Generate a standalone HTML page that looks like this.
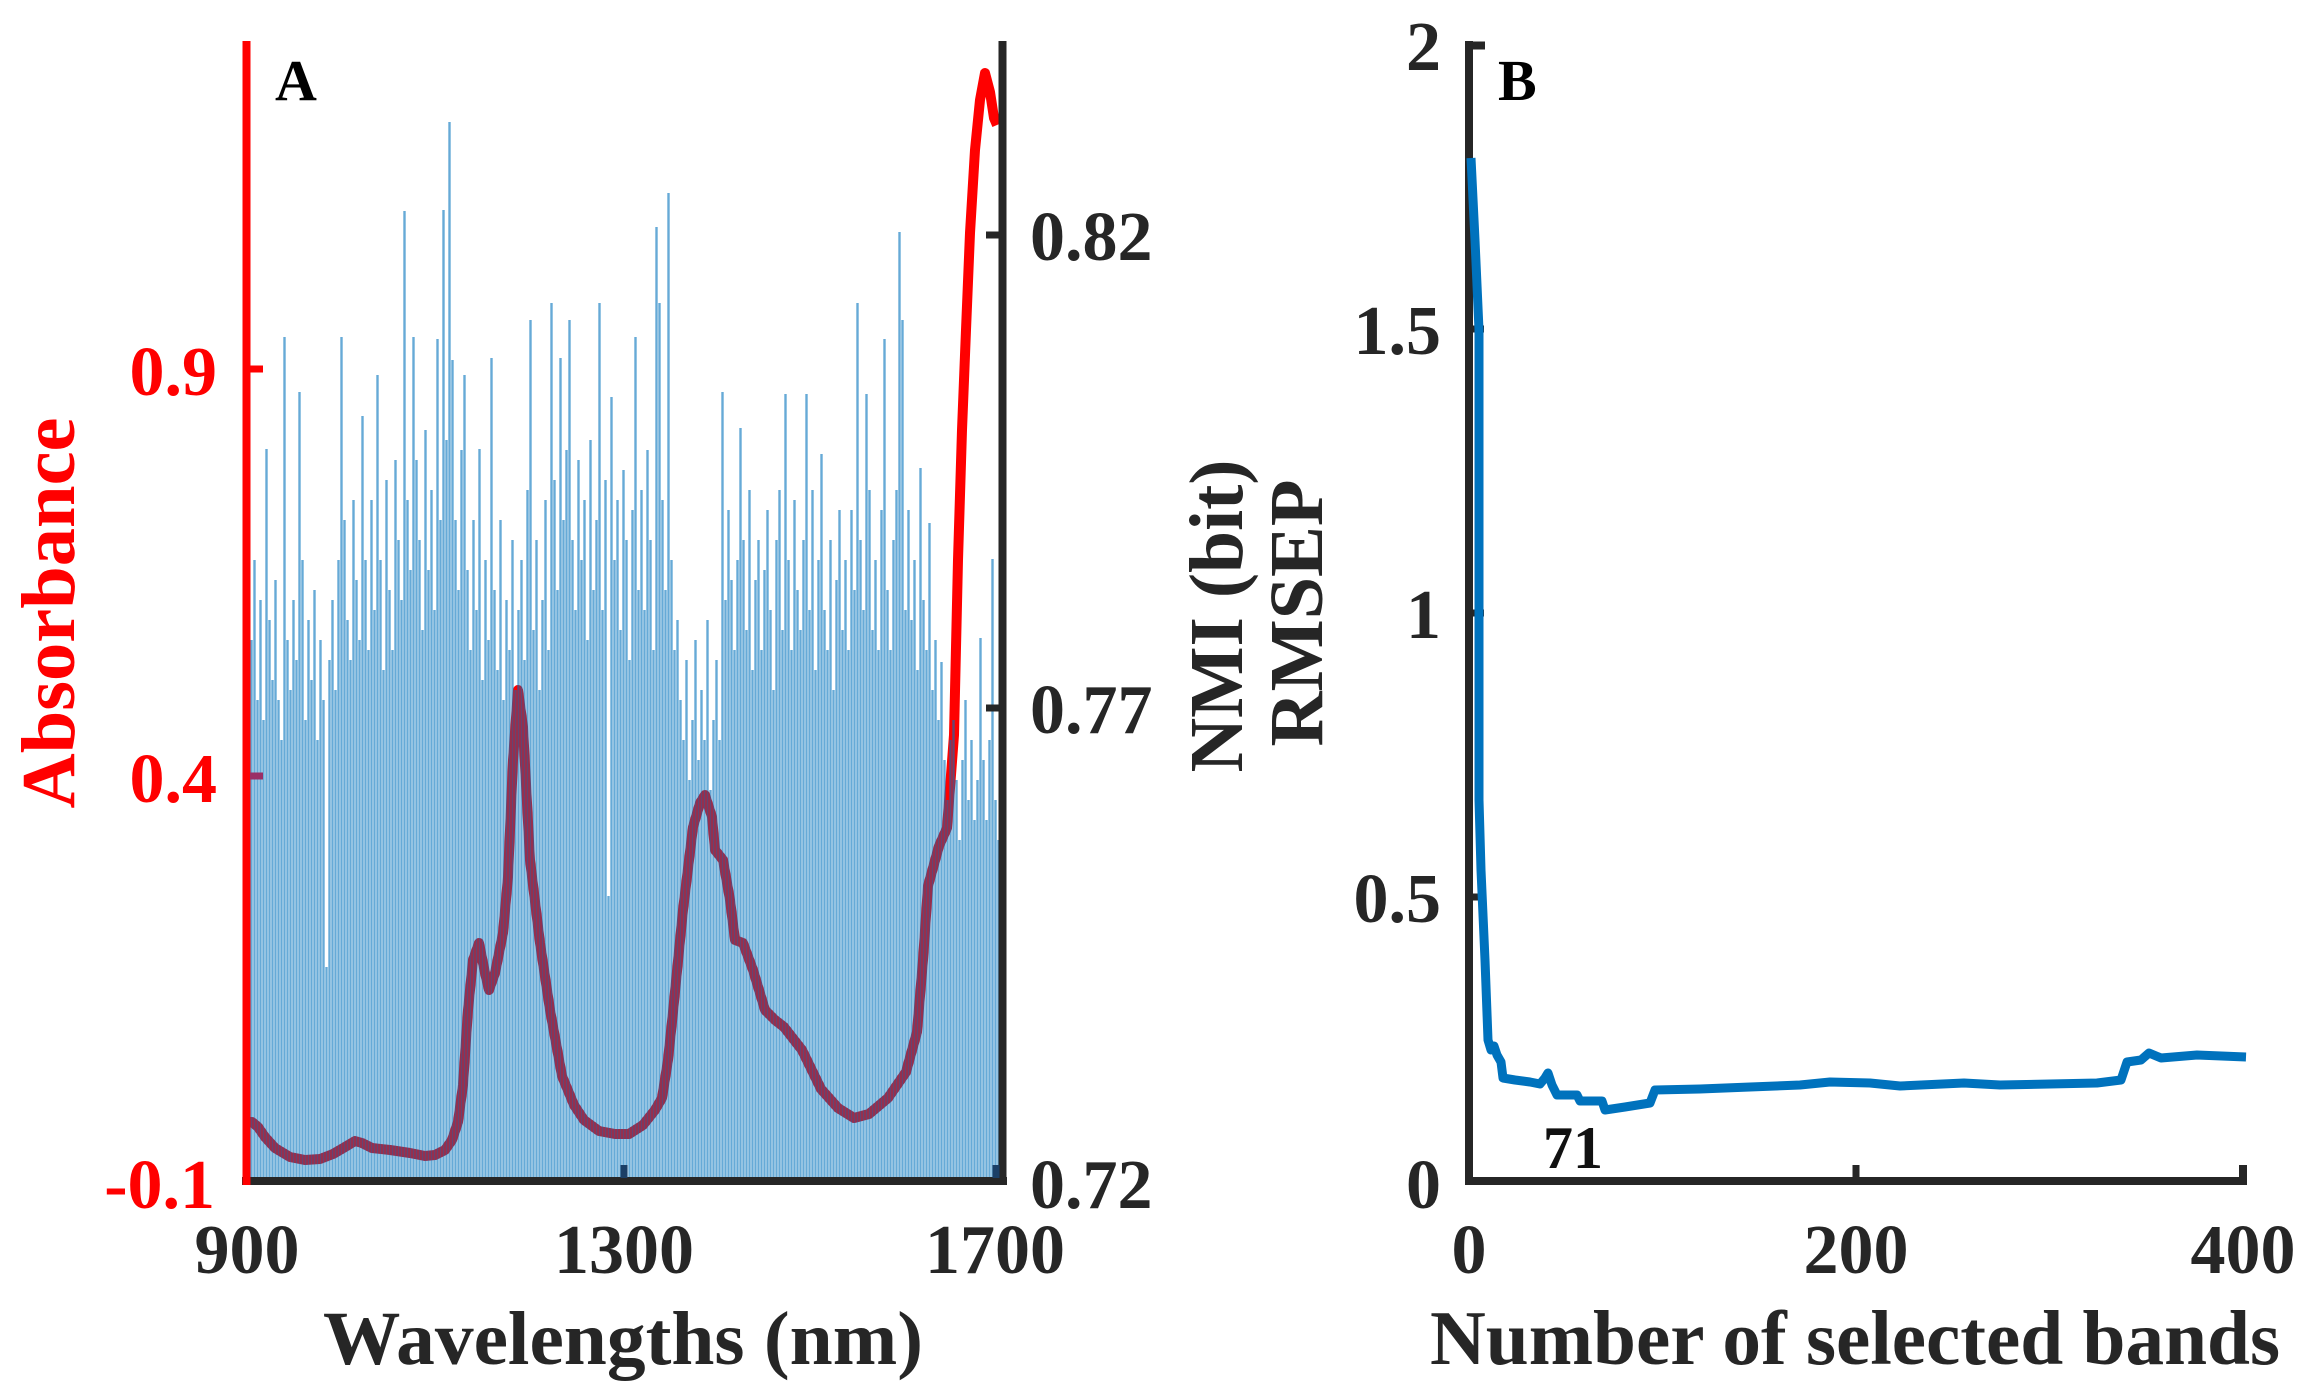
<!DOCTYPE html>
<html>
<head>
<meta charset="utf-8">
<style>
html,body{margin:0;padding:0;background:#fff;overflow:hidden;}
svg{display:block;}
text{font-family:"Liberation Serif","Times New Roman",serif;font-weight:bold;}
</style>
</head>
<body>
<svg width="2314" height="1398" viewBox="0 0 2314 1398" xmlns="http://www.w3.org/2000/svg">
<rect x="0" y="0" width="2314" height="1398" fill="#ffffff"/>

<!-- ============ PANEL A ============ -->
<polyline fill="none" stroke="#ff0000" stroke-width="10" stroke-linejoin="round" stroke-linecap="butt"
points="250,1122 252,1122 258,1127 265,1137 275,1148 290,1157 305,1160 320,1159 333,1154 345,1147 355,1141 362,1143 372,1148 390,1150 410,1153 425,1156 435,1155 445,1150 452,1140 458,1122 463,1085 468,1010 473,960 479,943 485,973 489,990 495,973 503,933 508,877 513,760 518,690 523,727 530,860 540,943 550,1010 562,1076 574,1105 584,1120 599,1131 615,1134 629,1134 643,1125 655,1110 662,1098 668,1060 673,1012 683,910 693,827 700,803 705,795 712,817 715,850 723,860 730,900 735,940 743,943 753,970 765,1010 775,1020 784,1027 802,1050 821,1089 838,1108 854,1118 869,1114 888,1098 906,1072 917,1032 923,960 928,886 939,846 947,828 954,735 958,560 962,430 966,330 970,233 975,150 980,100 985,73 990,92 994,118 997,125"/>

<path fill="none" stroke="#0072BD" stroke-opacity="0.6" stroke-width="2.4" d="
M251.5 640V1181M254.5 560V1181M257.5 700V1181M260.5 600V1181M263.5 720V1181M266.5 449V1181M269.5 620V1181M272.5 680V1181M275.5 580V1181M278.5 700V1181
M281.5 740V1181M284.5 337V1181M287.5 640V1181M290.5 690V1181M293.5 600V1181M296.5 660V1181M299.5 392V1181M302.5 560V1181M305.5 720V1181M308.5 620V1181
M311.5 680V1181M314.5 590V1181M317.5 740V1181M320.5 640V1181M323.5 700V1181M326.5 967V1181M329.5 660V1181M332.5 600V1181M335.5 690V1181M338.5 560V1181
M341.5 337V1181M344.5 520V1181M347.5 620V1181M350.5 660V1181M353.5 500V1181M356.5 580V1181M359.5 640V1181M362.5 416V1181M365.5 560V1181M368.5 650V1181
M371.5 500V1181M374.5 610V1181M377.5 375V1181M380.5 560V1181M383.5 670V1181M386.5 480V1181M389.5 590V1181M392.5 650V1181M395.5 460V1181M398.5 540V1181
M401.5 600V1181M404.5 211V1181M407.5 500V1181M410.5 570V1181M413.5 337V1181M416.5 460V1181M419.5 540V1181M422.5 630V1181M425.5 430V1181M428.5 570V1181
M431.5 490V1181M434.5 610V1181M437.5 339V1181M440.5 520V1181M443.5 210V1181M446.5 440V1181M449.5 122V1181M452.5 360V1181M455.5 520V1181M458.5 590V1181
M461.5 450V1181M464.5 375V1181M467.5 570V1181M470.5 650V1181M473.5 520V1181M476.5 610V1181M479.5 449V1181M482.5 680V1181M485.5 560V1181M488.5 640V1181
M491.5 358V1181M494.5 590V1181M497.5 670V1181M500.5 520V1181M503.5 700V1181M506.5 600V1181M509.5 650V1181M512.5 540V1181M515.5 690V1181M518.5 610V1181
M521.5 560V1181M524.5 660V1181M527.5 490V1181M530.5 320V1181M533.5 630V1181M536.5 540V1181M539.5 690V1181M542.5 600V1181M545.5 500V1181M548.5 650V1181
M551.5 303V1181M554.5 480V1181M557.5 590V1181M560.5 358V1181M563.5 520V1181M566.5 450V1181M569.5 320V1181M572.5 540V1181M575.5 610V1181M578.5 460V1181
M581.5 560V1181M584.5 500V1181M587.5 640V1181M590.5 440V1181M593.5 590V1181M596.5 520V1181M599.5 303V1181M602.5 610V1181M605.5 480V1181M608.5 896V1181
M611.5 397V1181M614.5 560V1181M617.5 500V1181M620.5 630V1181M623.5 470V1181M626.5 540V1181M629.5 660V1181M632.5 510V1181M635.5 337V1181M638.5 590V1181
M641.5 490V1181M644.5 610V1181M647.5 450V1181M650.5 540V1181M653.5 650V1181M656.5 227V1181M659.5 303V1181M662.5 500V1181M665.5 590V1181M668.5 193V1181
M671.5 560V1181M674.5 650V1181M677.5 620V1181M680.5 700V1181M683.5 740V1181M686.5 660V1181M689.5 780V1181M692.5 720V1181M695.5 640V1181M698.5 760V1181
M701.5 690V1181M704.5 740V1181M707.5 620V1181M710.5 790V1181M713.5 720V1181M716.5 660V1181M719.5 740V1181M722.5 392V1181M725.5 600V1181M728.5 510V1181
M731.5 580V1181M734.5 650V1181M737.5 560V1181M740.5 428V1181M743.5 540V1181M746.5 630V1181M749.5 490V1181M752.5 670V1181M755.5 580V1181M758.5 540V1181
M761.5 650V1181M764.5 570V1181M767.5 510V1181M770.5 610V1181M773.5 690V1181M776.5 540V1181M779.5 490V1181M782.5 630V1181M785.5 394V1181M788.5 560V1181
M791.5 650V1181M794.5 500V1181M797.5 590V1181M800.5 630V1181M803.5 540V1181M806.5 394V1181M809.5 610V1181M812.5 490V1181M815.5 670V1181M818.5 560V1181
M821.5 454V1181M824.5 610V1181M827.5 650V1181M830.5 540V1181M833.5 690V1181M836.5 580V1181M839.5 510V1181M842.5 630V1181M845.5 560V1181M848.5 650V1181
M851.5 510V1181M854.5 590V1181M857.5 303V1181M860.5 540V1181M863.5 610V1181M866.5 394V1181M869.5 490V1181M872.5 630V1181M875.5 560V1181M878.5 650V1181
M881.5 510V1181M884.5 339V1181M887.5 590V1181M890.5 650V1181M893.5 540V1181M896.5 490V1181M899.5 232V1181M902.5 320V1181M905.5 610V1181M908.5 510V1181
M911.5 620V1181M914.5 560V1181M917.5 670V1181M920.5 468V1181M923.5 600V1181M926.5 650V1181M929.5 523V1181M932.5 690V1181M935.5 640V1181M938.5 720V1181
M941.5 662V1181M944.5 760V1181M947.5 800V1181M950.5 740V1181M953.5 720V1181M956.5 780V1181M959.5 840V1181M962.5 760V1181M965.5 700V1181M968.5 800V1181
M971.5 740V1181M974.5 820V1181M977.5 780V1181M980.5 638V1181M983.5 760V1181M986.5 820V1181M989.5 740V1181M992.5 559V1181M995.5 800V1181M998.5 840V1181"/>

<!-- axes A -->
<line x1="242" y1="1181" x2="1007" y2="1181" stroke="#262626" stroke-width="8"/>
<line x1="1002.5" y1="41" x2="1002.5" y2="1185" stroke="#262626" stroke-width="8"/>
<line x1="246.5" y1="41" x2="246.5" y2="1185" stroke="#ff0000" stroke-width="8"/>
<line x1="250" y1="369" x2="263" y2="369" stroke="#ff0000" stroke-width="7"/>
<line x1="250" y1="776" x2="263" y2="776" stroke="#9a2f66" stroke-width="7"/>
<line x1="999" y1="235" x2="986" y2="235" stroke="#262626" stroke-width="7"/>
<line x1="999" y1="708" x2="986" y2="708" stroke="#262626" stroke-width="7"/>
<line x1="624" y1="1178" x2="624" y2="1165" stroke="#1b3f66" stroke-width="7"/>
<line x1="996" y1="1178" x2="996" y2="1165" stroke="#1b3f66" stroke-width="7"/>

<text x="275" y="100" font-size="58" fill="#000">A</text>
<text x="217" y="395" font-size="70" fill="#ff0000" text-anchor="end">0.9</text>
<text x="217" y="802" font-size="70" fill="#ff0000" text-anchor="end">0.4</text>
<text x="215" y="1208" font-size="70" fill="#ff0000" text-anchor="end">-0.1</text>
<text x="1030" y="260" font-size="70" fill="#262626">0.82</text>
<text x="1030" y="733" font-size="70" fill="#262626">0.77</text>
<text x="1030" y="1208" font-size="70" fill="#262626">0.72</text>
<text x="247" y="1273" font-size="70" fill="#262626" text-anchor="middle">900</text>
<text x="624" y="1273" font-size="70" fill="#262626" text-anchor="middle">1300</text>
<text x="995" y="1273" font-size="70" fill="#262626" text-anchor="middle">1700</text>
<text x="323" y="1364" font-size="76" fill="#262626" textLength="600" lengthAdjust="spacingAndGlyphs">Wavelengths (nm)</text>
<text transform="translate(74,613) rotate(-90)" font-size="76" fill="#ff0000" text-anchor="middle" textLength="391" lengthAdjust="spacingAndGlyphs">Absorbance</text>

<!-- ============ PANEL B ============ -->
<line x1="1469" y1="41" x2="1469" y2="1185" stroke="#262626" stroke-width="8"/>
<line x1="1465" y1="1181" x2="2247" y2="1181" stroke="#262626" stroke-width="8"/>
<line x1="2243" y1="1181" x2="2243" y2="1165" stroke="#262626" stroke-width="8"/>
<line x1="1856" y1="1178" x2="1856" y2="1165" stroke="#262626" stroke-width="7"/>
<line x1="1469" y1="45.5" x2="1485" y2="45.5" stroke="#262626" stroke-width="8"/>
<line x1="1472" y1="329" x2="1484" y2="329" stroke="#262626" stroke-width="7"/>
<line x1="1472" y1="613" x2="1484" y2="613" stroke="#262626" stroke-width="7"/>
<line x1="1472" y1="897" x2="1484" y2="897" stroke="#262626" stroke-width="7"/>

<polyline fill="none" stroke="#0072BD" stroke-width="9" stroke-linejoin="round" stroke-linecap="butt"
points="1471,158 1475,240 1479,330 1479,600 1479,800 1481,870 1485,960 1488,1040 1491,1050 1494,1046 1497,1055 1501,1062 1503,1078 1515,1080 1530,1082 1540,1084 1545,1078 1548,1073 1552,1085 1557,1095 1577,1095 1580,1101 1602,1101 1605,1110 1625,1107 1650,1103 1655,1090 1700,1089 1750,1087 1800,1085 1830,1082 1870,1083 1900,1086 1964,1083 2000,1085 2097,1083 2121,1080 2127,1062 2141,1060 2149,1053 2161,1058 2197,1055 2246,1057"/>

<text x="1498" y="100" font-size="58" fill="#000">B</text>
<text x="1441" y="70" font-size="70" fill="#262626" text-anchor="end">2</text>
<text x="1441" y="354" font-size="70" fill="#262626" text-anchor="end">1.5</text>
<text x="1441" y="638" font-size="70" fill="#262626" text-anchor="end">1</text>
<text x="1441" y="922" font-size="70" fill="#262626" text-anchor="end">0.5</text>
<text x="1441" y="1208" font-size="70" fill="#262626" text-anchor="end">0</text>
<text x="1469" y="1273" font-size="70" fill="#262626" text-anchor="middle">0</text>
<text x="1856" y="1273" font-size="70" fill="#262626" text-anchor="middle">200</text>
<text x="2243" y="1273" font-size="70" fill="#262626" text-anchor="middle">400</text>
<text x="1573" y="1168" font-size="60" fill="#111" text-anchor="middle">71</text>
<text x="1430" y="1364" font-size="77" fill="#262626" textLength="850" lengthAdjust="spacingAndGlyphs">Number of selected bands</text>
<text transform="translate(1242,616) rotate(-90)" font-size="76" fill="#262626" text-anchor="middle" textLength="313" lengthAdjust="spacingAndGlyphs">NMI (bit)</text>
<text transform="translate(1322,613) rotate(-90)" font-size="76" fill="#262626" text-anchor="middle" textLength="267" lengthAdjust="spacingAndGlyphs">RMSEP</text>
</svg>
</body>
</html>
